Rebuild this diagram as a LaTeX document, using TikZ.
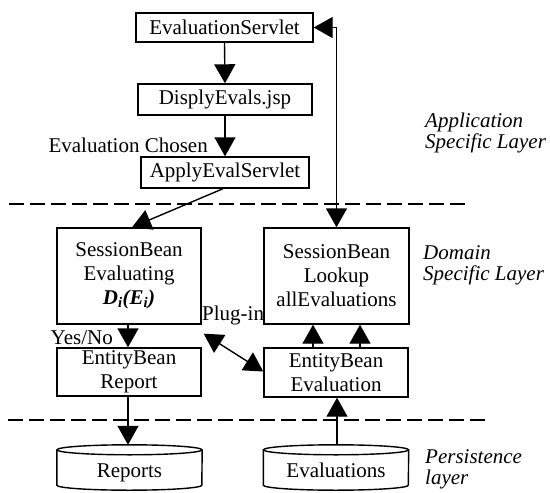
\documentclass[tikz,border=0pt]{standalone}
\usepackage{fontspec}
\setmainfont{Liberation Serif}
\usetikzlibrary{arrows.meta}
\begin{document}
\begin{tikzpicture}[x=1pt,y=-1pt,
  box/.style={draw,line width=1.4pt,inner sep=0pt,align=center,font=\fontsize{21}{24}\selectfont},
  arr/.style={line width=1.4pt,-{Triangle[length=19pt,width=21pt]}},
  darr/.style={line width=1.4pt,{Triangle[length=19pt,width=21pt]}-{Triangle[length=19pt,width=21pt]}},
  lbl/.style={font=\fontsize{21}{24}\selectfont,inner sep=0pt},
  layer/.style={font=\fontsize{21}{21}\selectfont\itshape,inner sep=0pt,align=left},
  cyl/.style={inner sep=0pt,minimum width=145pt,minimum height=45pt,text height=20pt,text depth=0pt,font=\fontsize{21}{24}\selectfont},
  sep/.style={line width=1.5pt,dash pattern=on 15pt off 6pt}]
\useasboundingbox (0,0) rectangle (550,493);

% application layer
\node[box,minimum width=177pt,minimum height=29pt] (es) at (224.5,27.5) {EvaluationServlet};
\node[box,minimum width=174pt,minimum height=31pt] (de) at (225,99.5) {DisplyEvals.jsp};
\node[box,minimum width=168pt,minimum height=31pt] (ap) at (225,172.5) {ApplyEvalServlet};

% domain layer
\node[box,minimum width=144pt,minimum height=96pt] (sbe) at (129,276) {SessionBean\\Evaluating\\\textbf{\textit{D\textsubscript{i}(E\textsubscript{i})}}};
\node[box,minimum width=145pt,minimum height=96pt] (sbl) at (336.5,276) {SessionBean\\Lookup\\allEvaluations};
\node[box,minimum width=144pt,minimum height=48pt] (ebr) at (129,372) {EntityBean\\Report};
\node[box,minimum width=144pt,minimum height=49pt] (ebe) at (336,372.5) {EntityBean\\Evaluation};

% persistence layer
\node[cyl] (rep) at (129.5,467.5) {Reports};
\node[cyl] (evs) at (336,467.5) {Evaluations};
\foreach \c in {rep,evs}{
  \draw[line width=1.4pt] ([yshift=-5pt]\c.north) ellipse[x radius=72.5pt,y radius=5pt];
  \draw[line width=1.4pt] ([yshift=-5pt]\c.north west) -- ([yshift=5pt]\c.south west)
     arc[start angle=180,end angle=360,x radius=72.5pt,y radius=5pt] -- ([yshift=-5pt]\c.north east);
}

% separators
\draw[sep] (9,204) -- (468,204);
\draw[sep] (8,420) -- (488,420);

% layer labels
\node[layer,anchor=base west] (lapp) at (425,148) {Application\\Specific Layer};
\node[layer,anchor=base west] (ldom) at (423,280) {Domain\\Specific Layer};
\node[layer,anchor=base west] (lper) at (425,484) {Persistence\\layer};

% connectors
\draw[arr] (es.south) -- (de.north);
\draw[arr] (de.south) -- (ap.north);
\node[lbl,anchor=base east] (chosen) at (208,152) {Evaluation Chosen};
\draw[arr] ([xshift=-2pt]ap.south) -- ([xshift=3pt]sbe.north);
\draw[darr] (es.east) -| (sbl.north);
\draw[arr] ([xshift=-1pt]sbe.south) -- ([xshift=-1pt]ebr.north);
\node[lbl,anchor=base east] (yesno) at (113,344) {Yes/No};
\draw[arr] ([xshift=-1pt]ebr.south) -- ([xshift=-1.5pt]rep.north);
\draw[darr] ([shift={(2pt,-9pt)}]sbe.south east) -- ([yshift=1pt]ebe.west);
\node[lbl,anchor=base west] (plugin) at (202,320) {Plug-in};
\draw[arr] ([xshift=-23pt]ebe.north) -- ([xshift=-23.5pt]sbl.south);
\draw[arr] ([xshift=24pt]ebe.north) -- ([xshift=23.5pt]sbl.south);
\draw[arr] ([xshift=1pt]evs.north) -- ([xshift=1pt]ebe.south);
\end{tikzpicture}
\end{document}
